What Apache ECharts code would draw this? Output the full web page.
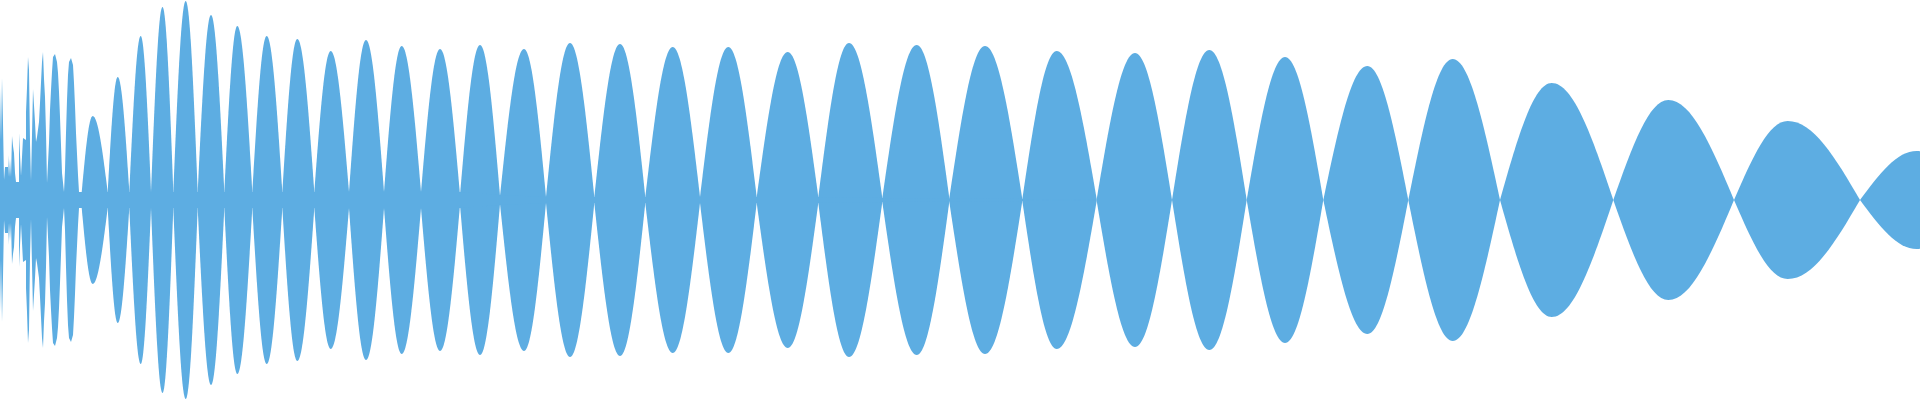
<!DOCTYPE html>
<html>
<head>
<meta charset="utf-8">
<script src="https://cdn.jsdelivr.net/npm/echarts@6/dist/echarts.min.js"></script>
<style>
html,body{margin:0;padding:0;background:#ffffff;}
#chart{width:1920px;height:400px;}
</style>
</head>
<body>
<div id="chart"></div>
<script>
// Noisy start of the waveform: sample position and amplitude
const leftX = [0,1,2,3,4,5,8,9,10,11,12,13,14,15,16,19,20,21,23,24,26,27,28,29,30,31,33,34,35,36,37,38,39,40,42,43,44,45,46,47,49,50,51,52,53,55,57,58,59,60,62,64,65,66,67,68,69,71,73,74,75,76,78,79,81.7];
const leftAmp = [112,60,122,77,20,33,45,23,41,23,64,54,47,27,18,67,67,24,62,60,88,112,143,130,57,19,111,111,78,58,63,65,78,97,138,148,121,103,67,17,57,90,110,128,143,146,138,127,108,83,27,8,30,67,100,125,138,142,135,117,94,67,25,8,8];

// Lobes: zero-crossing positions, residual amplitude at each crossing, peak position and peak amplitude
const crossings = [81.7,107.7,129.3,151,173.3,197.7,224.3,252.3,282.3,314.3,349,384,421,460,500,546,594.3,645.3,700,756.7,818.3,882.3,949.3,1022.3,1096.7,1172,1246.7,1323.3,1408.3,1500,1613.3,1734,1860,1972];
const crossAmp = [8,8,8,8,8,8,8,8,8,8,8,8,8,5,4,3,3,3,3,3,3,2,2,1,1,0,0,0,0,0,0,0,0,0];
const peakX = [92.7,117.7,140.7,162.5,185.7,211,237.3,266.7,297.3,330.7,366,401.7,440,480,524,570,620,672.7,728.3,787.7,849,916.7,985,1056.7,1135,1209.3,1285,1367.3,1452.7,1551.7,1668.3,1787.7,1916.7];
const peakAmp = [84,123,164,193,199,185,174,164,161,149,160,154,151,155,151,157,156,153,153,148,157,155,154,149,147,150,143,134,141,117,100,79,49];

// Residual amplitude that stays around the zero crossings
const floorX = [0,460,500,546,818,882,1022,1100];
const floorAmp = [8,8,5,3,3,2,1,0];

const COLOR = '#5DADE2';

// one data row per lobe: [startX, endX, peakX, peakAmp, startAmp, endAmp]
const lobeRows = peakX.map((px, i) => [crossings[i], crossings[i + 1], px, peakAmp[i], crossAmp[i], crossAmp[i + 1]]);

function base(extra) {
  return Object.assign({
    type: 'line',
    showSymbol: false,
    symbol: 'none',
    silent: true,
    clip: true,
    lineStyle: { width: 0, color: COLOR },
    itemStyle: { color: COLOR },
    areaStyle: { color: COLOR, opacity: 1 }
  }, extra);
}

// half-sine shaped edge between a crossing and the peak, drawn as cubic curves
const K = 0.35, KS = 0.35 * Math.PI / 2;
function halfPath(A, T, B, first) {
  const q1 = T[0] - A[0], q2 = B[0] - T[0];
  let d = (first ? 'M' : 'L') + A[0].toFixed(2) + ' ' + A[1].toFixed(2);
  d += ' C' + (A[0] + K * q1).toFixed(2) + ' ' + (A[1] + KS * (T[1] - A[1])).toFixed(2) + ' ' +
       (T[0] - K * q1).toFixed(2) + ' ' + T[1].toFixed(2) + ' ' + T[0].toFixed(2) + ' ' + T[1].toFixed(2);
  d += ' C' + (T[0] + K * q2).toFixed(2) + ' ' + T[1].toFixed(2) + ' ' +
       (B[0] - K * q2).toFixed(2) + ' ' + (B[1] + KS * (T[1] - B[1])).toFixed(2) + ' ' + B[0].toFixed(2) + ' ' + B[1].toFixed(2);
  return d;
}

function renderLobe(params, api) {
  const c0 = api.value(0), c1 = api.value(1), px = api.value(2), a = api.value(3), m0 = api.value(4), m1 = api.value(5);
  const A = api.coord([c0, m0]), T = api.coord([px, a]), B = api.coord([c1, m1]);
  const A2 = api.coord([c0, -m0]), T2 = api.coord([px, -a]), B2 = api.coord([c1, -m1]);
  let d = halfPath(A, T, B, true);
  d += ' ' + halfPath(B2, T2, A2, false).replace(/^L/, 'L');
  d += ' Z';
  return {
    type: 'path',
    shape: { pathData: d },
    style: { fill: COLOR, stroke: null }
  };
}

const series = [];
[1, -1].forEach(function (sign) {
  series.push(base({ step: 'end', data: leftX.map((x, i) => [x, sign * leftAmp[i]]) }));
  series.push(base({ data: floorX.map((x, i) => [x, sign * floorAmp[i]]) }));
});
series.push({
  type: 'custom',
  silent: true,
  renderItem: renderLobe,
  encode: { x: [0, 1, 2], y: 3 },
  data: lobeRows
});

const chart = echarts.init(document.getElementById('chart'), null, { renderer: 'canvas' });
chart.setOption({
  animation: false,
  backgroundColor: '#ffffff',
  grid: { left: 0, right: 0, top: 0, bottom: 0, containLabel: false },
  xAxis: { type: 'value', min: 0, max: 1920, show: false },
  yAxis: { type: 'value', min: -200, max: 200, show: false },
  series: series
});
</script>
</body>
</html>
